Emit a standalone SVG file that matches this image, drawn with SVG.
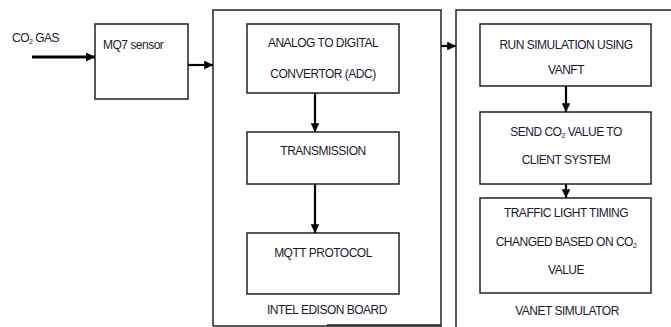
<svg xmlns="http://www.w3.org/2000/svg" width="671" height="327" viewBox="0 0 671 327">
<style>
.box{fill:#fff;stroke:#222;stroke-width:1.5}
.frame{fill:none;stroke:#222;stroke-width:1.5}
.t{font-family:"Liberation Sans",Arial,sans-serif;font-size:12px;letter-spacing:-0.5px;fill:#1a1a2e;text-anchor:middle}
.tl{font-family:"Liberation Sans",Arial,sans-serif;font-size:12px;letter-spacing:-0.5px;fill:#1a1a2e}
.c{stroke:#000;stroke-width:2.2;fill:none;marker-end:url(#ah)}
.cb{stroke:#000;stroke-width:3;fill:none;marker-end:url(#ahb)}
</style>
<defs>
<marker id="ah" markerWidth="4" markerHeight="4" refX="4" refY="2" orient="auto" markerUnits="strokeWidth">
<path d="M0,0 L4,2 L0,4 z" fill="#000"/>
</marker>
<marker id="ahb" markerWidth="3" markerHeight="3" refX="3" refY="1.5" orient="auto" markerUnits="strokeWidth">
<path d="M0,0 L3,1.5 L0,3 z" fill="#000"/>
</marker>
</defs>
<rect width="671" height="327" fill="#fff"/>

<g id="co2-gas">
<text class="tl" x="12" y="42">CO<tspan font-size="7" dy="2">2</tspan><tspan dy="-2"> GAS</tspan></text>
</g>

<g id="mq7">
<rect class="box" x="95" y="24" width="93" height="75"/>
<text class="tl" x="103" y="49">MQ7 sensor</text>
</g>

<g id="intel-board">
<path class="frame" d="M213,326 L213,10 L441,10 L441,326 L213,326"/>
<line x1="327" y1="325" x2="441" y2="325" stroke="#222" stroke-width="1.5"/>
<text class="t" x="327" y="314">INTEL EDISON BOARD</text>
</g>

<g id="adc">
<rect class="box" x="247" y="24" width="152" height="69"/>
<text class="t" x="323" y="47">ANALOG TO DIGITAL</text>
<text class="t" x="323" y="78">CONVERTOR (ADC)</text>
</g>

<g id="transmission">
<rect class="box" x="247" y="132" width="152" height="52"/>
<text class="t" x="323" y="155">TRANSMISSION</text>
</g>

<g id="mqtt">
<rect class="box" x="247" y="233" width="152" height="61"/>
<text class="t" x="323" y="257">MQTT PROTOCOL</text>
</g>

<g id="vanet-sim">
<path class="frame" d="M456,330 L456,10 L672,10"/>
<text class="t" x="567" y="315">VANET SIMULATOR</text>
</g>

<g id="run-sim">
<rect class="box" x="480" y="24" width="171" height="62"/>
<text class="t" x="566" y="49">RUN SIMULATION USING</text>
<text class="t" x="566" y="74">VANFT</text>
</g>

<g id="send-co2">
<rect class="box" x="480" y="112" width="171" height="72"/>
<text class="t" x="566" y="136">SEND CO<tspan font-size="7" dy="2">2</tspan><tspan dy="-2"> VALUE TO</tspan></text>
<text class="t" x="566" y="164">CLIENT SYSTEM</text>
</g>

<g id="traffic">
<rect class="box" x="480" y="198" width="171" height="95"/>
<text class="t" x="566" y="217">TRAFFIC LIGHT TIMING</text>
<text class="t" x="566" y="246">CHANGED BASED ON CO<tspan font-size="7" dy="2">2</tspan></text>
<text class="t" x="566" y="274">VALUE</text>
</g>

<g id="connectors">
<line class="cb" x1="32" y1="57" x2="95" y2="57"/>
<line class="c" x1="188" y1="65" x2="213" y2="65"/>
<line class="c" x1="441" y1="46" x2="456" y2="46"/>
<line class="c" x1="315" y1="93" x2="315" y2="132"/>
<line class="c" x1="315" y1="184" x2="315" y2="233"/>
<line class="c" x1="566" y1="86" x2="566" y2="112"/>
<line class="c" x1="566" y1="184" x2="566" y2="198"/>
</g>
</svg>
